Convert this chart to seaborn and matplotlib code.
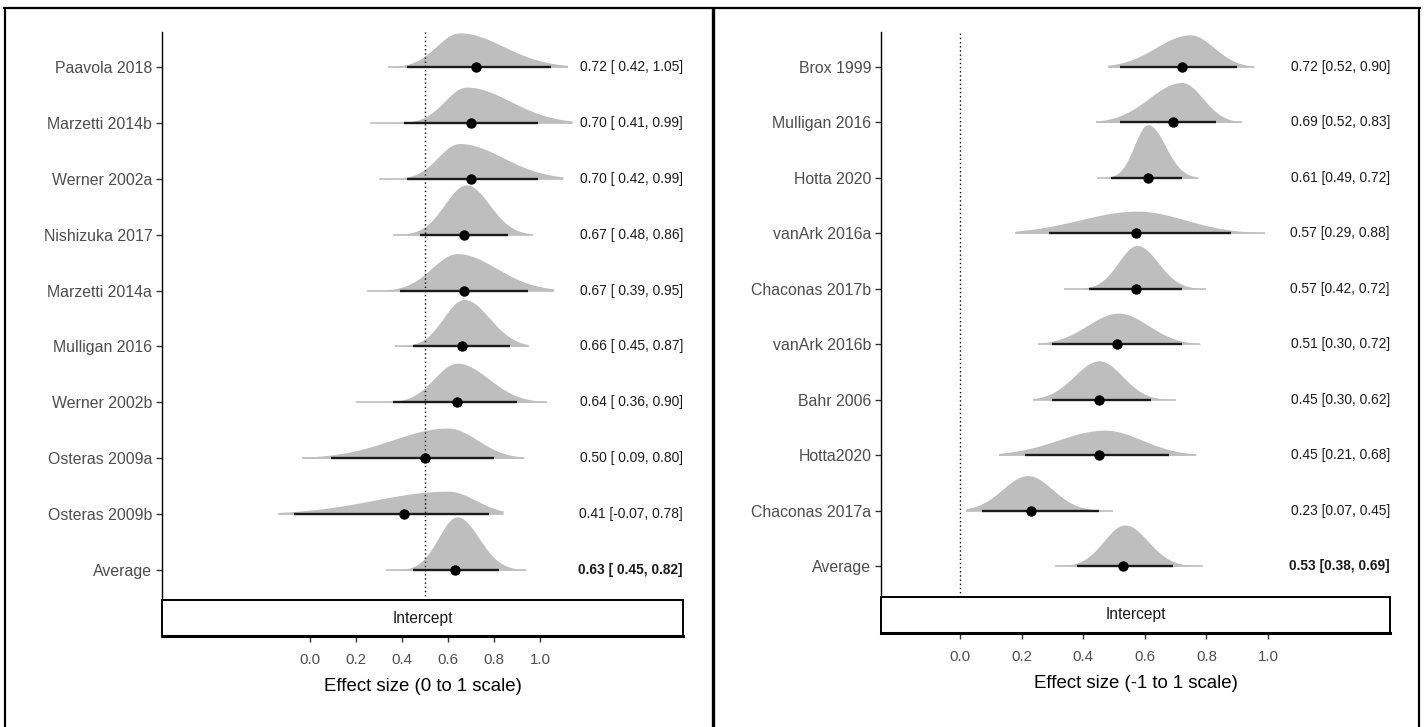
import numpy as np
import pandas as pd
import matplotlib
matplotlib.use("Agg")
import matplotlib.pyplot as plt
from matplotlib.lines import Line2D
import seaborn as sns

# ---------------- left panel: effect size on the 0 to 1 scale ----------------
left_studies = ["Paavola 2018", "Marzetti 2014b", "Werner 2002a", "Nishizuka 2017",
                "Marzetti 2014a", "Mulligan 2016", "Werner 2002b", "Osteras 2009a",
                "Osteras 2009b", "Average"]
left_median = [0.72, 0.70, 0.70, 0.67, 0.67, 0.66, 0.64, 0.50, 0.41, 0.63]
left_lower = [0.42, 0.41, 0.42, 0.48, 0.39, 0.45, 0.36, 0.09, -0.07, 0.45]
left_upper = [1.05, 0.99, 0.99, 0.86, 0.95, 0.87, 0.90, 0.80, 0.78, 0.82]
# posterior density outline: mode, left / right spread, support, peak height (rows)
left_mode = [0.65, 0.68, 0.65, 0.68, 0.64, 0.67, 0.64, 0.60, 0.60, 0.64]
left_sd_lo = [0.10, 0.094, 0.093, 0.094, 0.11, 0.089, 0.10, 0.24, 0.32, 0.081]
left_sd_hi = [0.19, 0.19, 0.187, 0.10, 0.17, 0.11, 0.136, 0.127, 0.12, 0.094]
left_tail_lo = [0.34, 0.26, 0.30, 0.36, 0.25, 0.37, 0.20, -0.035, -0.14, 0.33]
left_tail_hi = [1.12, 1.14, 1.10, 0.97, 1.06, 0.95, 1.03, 0.93, 0.84, 0.94]
left_peak = [0.61, 0.64, 0.63, 0.89, 0.66, 0.84, 0.70, 0.54, 0.41, 0.95]

# ---------------- right panel: effect size on the -1 to 1 scale ----------------
right_studies = ["Brox 1999", "Mulligan 2016", "Hotta 2020", "vanArk 2016a",
                 "Chaconas 2017b", "vanArk 2016b", "Bahr 2006", "Hotta2020",
                 "Chaconas 2017a", "Average"]
right_median = [0.72, 0.69, 0.61, 0.57, 0.57, 0.51, 0.45, 0.45, 0.23, 0.53]
right_lower = [0.52, 0.52, 0.49, 0.29, 0.42, 0.30, 0.30, 0.21, 0.07, 0.38]
right_upper = [0.90, 0.83, 0.72, 0.88, 0.72, 0.72, 0.62, 0.68, 0.45, 0.69]
right_mode = [0.747, 0.72, 0.61, 0.575, 0.575, 0.514, 0.452, 0.47, 0.22, 0.535]
right_sd_lo = [0.11, 0.106, 0.044, 0.185, 0.061, 0.10, 0.081, 0.15, 0.082, 0.068]
right_sd_hi = [0.077, 0.068, 0.056, 0.155, 0.068, 0.097, 0.075, 0.12, 0.08, 0.075]
right_tail_lo = [0.48, 0.44, 0.445, 0.18, 0.337, 0.254, 0.237, 0.127, 0.02, 0.31]
right_tail_hi = [0.955, 0.915, 0.773, 0.99, 0.80, 0.78, 0.70, 0.766, 0.497, 0.79]
right_peak = [0.58, 0.72, 0.96, 0.40, 0.78, 0.56, 0.70, 0.45, 0.63, 0.74]

x_ticks = [0.0, 0.2, 0.4, 0.6, 0.8, 1.0]

sns.set_theme(style="ticks")
plt.rcParams["font.family"] = ["Liberation Sans", "DejaVu Sans"]

W, H = 1426, 727
fig = plt.figure(figsize=(W / 100, H / 100), dpi=100)
fig.patch.set_facecolor("white")


def px_box(x0, y0, x1, y1):
    """Convert a pixel box (top-left origin) into figure fractions."""
    return [x0 / W, 1 - y1 / H, (x1 - x0) / W, (y1 - y0) / H]


def density_profile(x, mode, sd_lo, sd_hi):
    z = np.where(x < mode, (x - mode) / sd_lo, (x - mode) / sd_hi)
    return np.exp(-0.5 * z ** 2)


def draw_panel(main_box, strip_box, studies, median, lower, upper, mode, sd_lo,
               sd_hi, tail_lo, tail_hi, peak, xlim, ylim, ref_x, label_fmt, xlabel):
    ax = fig.add_axes(px_box(*main_box))
    sax = fig.add_axes(px_box(*strip_box))
    n = len(studies)
    ypos = np.arange(n)[::-1]
    df = pd.DataFrame({"study": studies, "median": median, "lower": lower,
                       "upper": upper, "y": ypos})

    # posterior densities
    for i in range(n):
        xs = np.linspace(tail_lo[i], tail_hi[i], 400)
        prof = density_profile(xs, mode[i], sd_lo[i], sd_hi[i])
        ax.plot([tail_lo[i], tail_hi[i]], [ypos[i], ypos[i]], color="#C8C8C8",
                lw=1.4, solid_capstyle="butt", zorder=1)
        ax.fill_between(xs, ypos[i], ypos[i] + peak[i] * prof, color="#BEBEBE",
                        lw=0, zorder=2)

    # reference line
    ax.axvline(ref_x, color="black", lw=1.0, ls=(0, (1, 2)), zorder=3)

    # credible intervals and medians
    ax.hlines(df["y"], df["lower"], df["upper"], color="#1a1a1a", lw=1.7, zorder=4)
    sns.scatterplot(data=df, x="median", y="y", ax=ax, color="black", s=56,
                    edgecolor="black", linewidth=0, zorder=5, legend=False)

    # value labels
    for i in range(n):
        bold = studies[i] == "Average"
        ax.text(1.0, ypos[i], label_fmt(median[i], lower[i], upper[i]),
                transform=ax.get_yaxis_transform(), ha="right", va="center",
                fontsize=9.9, color="#1a1a1a",
                fontweight="bold" if bold else "normal")

    ax.set_xlim(*xlim)
    ax.set_ylim(*ylim)
    ax.set_yticks(ypos)
    ax.set_yticklabels(studies)
    ax.set_xticks([])
    ax.set_xlabel("")
    ax.set_ylabel("")
    ax.tick_params(axis="y", length=4, width=1, color="#333333", labelsize=11.4,
                   labelcolor="#4D4D4D", pad=3)
    for side in ["top", "right", "bottom"]:
        ax.spines[side].set_visible(False)
    ax.spines["left"].set_color("black")
    ax.spines["left"].set_linewidth(1.0)
    ax.set_facecolor("white")

    # strip with facet title, x axis below it
    sax.set_xlim(*xlim)
    sax.set_ylim(0, 1)
    sax.set_yticks([])
    sax.set_xticks(x_ticks)
    sax.set_xticklabels([f"{t:.1f}" for t in x_ticks])
    sax.tick_params(axis="x", length=4, width=1, color="#333333", labelsize=10.8,
                    labelcolor="#4D4D4D", pad=8)
    for side in sax.spines:
        sax.spines[side].set_visible(True)
        sax.spines[side].set_color("black")
        sax.spines[side].set_linewidth(1.4)
    sax.spines["bottom"].set_linewidth(2.2)
    sax.set_facecolor("white")
    sax.text(0.5, 0.5, "Intercept", transform=sax.transAxes, ha="center",
             va="center", fontsize=11.2, color="#1a1a1a")
    sax.set_xlabel(xlabel, fontsize=13.4, color="black", labelpad=8)
    return ax, sax


draw_panel((162, 32, 683, 600), (162, 600, 683, 636),
           left_studies, left_median, left_lower, left_upper, left_mode,
           left_sd_lo, left_sd_hi, left_tail_lo, left_tail_hi, left_peak,
           xlim=(-0.643, 1.622), ylim=(-0.537, 9.626), ref_x=0.5,
           label_fmt=lambda m, lo, hi: f"{m:.2f} [{lo:5.2f}, {hi:.2f}]",
           xlabel="Effect size (0 to 1 scale)")

draw_panel((881, 32, 1390, 597), (881, 597, 1390, 633),
           right_studies, right_median, right_lower, right_upper, right_mode,
           right_sd_lo, right_sd_hi, right_tail_lo, right_tail_hi, right_peak,
           xlim=(-0.2565, 1.396), ylim=(-0.559, 9.631), ref_x=0.0,
           label_fmt=lambda m, lo, hi: f"{m:.2f} [{lo:.2f}, {hi:.2f}]",
           xlabel="Effect size (-1 to 1 scale)")

# panel frames
frame_kw = dict(color="black", transform=fig.transFigure)
fig.add_artist(Line2D([4 / W, 1420 / W], [1 - 8 / H, 1 - 8 / H], lw=1.6, **frame_kw))
fig.add_artist(Line2D([5 / W, 5 / W], [0, 1 - 8 / H], lw=1.6, **frame_kw))
fig.add_artist(Line2D([712.5 / W, 712.5 / W], [0, 1 - 8 / H], lw=2.4, **frame_kw))
fig.add_artist(Line2D([1419 / W, 1419 / W], [0, 1 - 8 / H], lw=1.6, **frame_kw))

fig.savefig("out.png", dpi=100, facecolor="white")
